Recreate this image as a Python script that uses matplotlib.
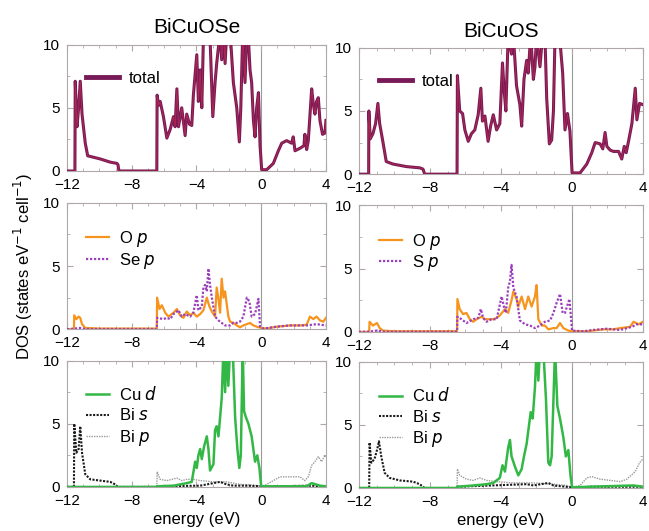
import numpy as np
import matplotlib
matplotlib.use("Agg")
import matplotlib.pyplot as plt
from matplotlib.ticker import MultipleLocator

# ── Data (energy eV, DOS) ────────────────────────────────────────────────────
SE_TOTAL = [(-12, 0), (-11.51, 0), (-11.49, 7.1), (-11.38, 3.5), (-11.28, 5.0), (-11.18, 7.1),
            (-11.07, 4.5), (-10.87, 2.2), (-10.72, 1.2), (-9.94, 0.95), (-9.33, 0.7), (-8.91, 0.6),
            (-8.85, 0.5), (-8.79, 0), (-6.45, 0), (-6.43, 6.0), (-6.34, 5.2), (-6.24, 5.5),
            (-6.04, 4.3), (-5.83, 2.6), (-5.62, 3.3), (-5.42, 4.3), (-5.32, 3.5), (-5.21, 6.5),
            (-5.11, 3.5), (-4.91, 5.0), (-4.70, 2.8), (-4.60, 4.5), (-4.43, 3.7), (-4.29, 3.6),
            (-4.19, 6.0), (-3.98, 9.2), (-3.88, 5.5), (-3.77, 8.0), (-3.67, 5.0), (-3.57, 10.5),
            (-3.36, 11), (-3.16, 10.5), (-2.99, 4.3), (-2.85, 7.0), (-2.75, 8.5), (-2.54, 11),
            (-2.44, 8.8), (-2.33, 11), (-2.23, 8.5), (-2.13, 11), (-1.92, 11), (-1.72, 7.0),
            (-1.51, 5.0), (-1.35, 2.3), (-1.26, 5.0), (-1.14, 11), (-1.00, 7.0), (-0.89, 11),
            (-0.79, 10.5), (-0.69, 8.0), (-0.59, 7.0), (-0.48, 4.0), (-0.38, 2.7), (-0.28, 5.0),
            (-0.17, 6.2), (-0.07, 2.0), (0.03, 0.1), (0.34, 0.1), (0.75, 0.6), (1.06, 1.6),
            (1.27, 2.2), (1.57, 2.4), (1.88, 2.2), (1.98, 2.7), (2.09, 1.6), (2.40, 1.8),
            (2.64, 2.0), (2.70, 2.9), (2.81, 1.7), (2.91, 2.4), (3.12, 6.5), (3.22, 5.3),
            (3.32, 4.5), (3.42, 5.5), (3.53, 5.8), (3.63, 4.0), (3.79, 2.9), (3.94, 3.0), (4.0, 4.0)]

S_TOTAL = [(-12, 0), (-11.45, 0), (-11.44, 5.0), (-11.36, 2.8), (-11.21, 3.2), (-11.06, 4.0),
           (-10.93, 5.6), (-10.83, 4.0), (-10.64, 2.5), (-10.46, 1.0), (-10.08, 0.8), (-9.33, 0.6),
           (-8.57, 0.5), (-8.39, 0.4), (-8.29, 0), (-6.47, 0), (-6.45, 7.8), (-6.32, 5.0),
           (-6.16, 4.8), (-6.03, 3.5), (-5.84, 2.6), (-5.66, 3.2), (-5.47, 3.5), (-5.28, 4.7),
           (-5.13, 6.8), (-5.04, 4.2), (-4.90, 4.6), (-4.72, 2.6), (-4.58, 3.8), (-4.43, 4.7),
           (-4.24, 3.5), (-4.06, 4.0), (-3.91, 8.8), (-3.81, 6.5), (-3.72, 5.0), (-3.59, 11),
           (-3.40, 9.5), (-3.30, 11), (-3.12, 7.0), (-2.93, 5.5), (-2.83, 3.8), (-2.70, 7.5),
           (-2.55, 9.0), (-2.46, 8.0), (-2.32, 11), (-2.17, 7.5), (-2.08, 8.5), (-1.99, 11),
           (-1.80, 8.5), (-1.65, 11), (-1.52, 11), (-1.42, 6.0), (-1.27, 2.4), (-1.14, 2.7),
           (-1.04, 5.0), (-0.95, 11), (-0.76, 11), (-0.67, 10.5), (-0.52, 8.0), (-0.39, 3.5),
           (-0.25, 4.8), (-0.11, 3.4), (0.01, 0.1), (0.46, 0.1), (0.84, 0.8), (1.12, 1.7),
           (1.31, 2.5), (1.59, 2.4), (1.74, 2.0), (1.87, 3.3), (1.97, 2.2), (2.16, 1.9),
           (2.34, 1.8), (2.63, 1.8), (2.81, 1.2), (2.95, 2.2), (3.06, 1.7), (3.19, 2.6),
           (3.38, 4.0), (3.57, 6.8), (3.66, 4.3), (3.81, 5.6), (4.0, 5.5)]

SE_O_P = [(-12, 0), (-11.57, 0), (-11.55, 1.1), (-11.42, 0.8), (-11.28, 1.0), (-11.18, 0.9),
          (-11.07, 0.4), (-10.87, 0.1), (-9.94, 0.05), (-6.45, 0.05), (-6.43, 2.5), (-6.28, 1.6),
          (-6.14, 1.9), (-5.93, 1.3), (-5.73, 1.0), (-5.42, 1.3), (-5.21, 1.6), (-5.01, 1.1),
          (-4.80, 0.9), (-4.60, 1.4), (-4.39, 1.1), (-4.19, 1.3), (-3.98, 1.0), (-3.77, 1.2),
          (-3.57, 1.5), (-3.36, 2.5), (-3.20, 1.8), (-3.05, 1.4), (-2.85, 1.0), (-2.75, 3.3),
          (-2.64, 2.4), (-2.54, 1.3), (-2.44, 4.0), (-2.33, 2.5), (-2.23, 3.0), (-2.13, 2.0),
          (-2.03, 1.0), (-1.92, 0.6), (-1.72, 0.5), (-1.51, 0.3), (-1.31, 0.15), (-1.10, 0.3),
          (-0.89, 0.4), (-0.69, 0.5), (-0.48, 0.3), (-0.28, 0.2), (0.0, 0.1), (0.34, 0.05),
          (0.96, 0.2), (1.78, 0.3), (2.40, 0.3), (2.81, 0.35), (3.01, 1.0), (3.22, 0.8),
          (3.42, 1.0), (3.63, 0.7), (3.84, 0.6), (4.0, 0.9)]

SE_X_P = [(-12, 0), (-11.55, 0.05), (-11.2, 0.1), (-10.9, 0.02), (-6.45, 0.02), (-6.43, 0.9),
          (-6.04, 0.8), (-5.83, 0.9), (-5.62, 0.8), (-5.42, 1.2), (-5.11, 1.5), (-4.91, 1.0),
          (-4.70, 1.2), (-4.39, 1.0), (-4.19, 1.3), (-3.98, 2.7), (-3.88, 1.5), (-3.67, 1.8),
          (-3.57, 3.3), (-3.47, 3.5), (-3.36, 3.0), (-3.26, 4.8), (-3.16, 3.5), (-3.05, 2.5),
          (-2.85, 1.0), (-2.64, 0.7), (-2.44, 0.5), (-2.23, 0.3), (-1.92, 0.3), (-1.72, 0.5),
          (-1.51, 0.5), (-1.31, 0.6), (-1.10, 1.0), (-0.89, 2.5), (-0.73, 2.2), (-0.59, 1.0),
          (-0.38, 1.2), (-0.17, 2.4), (-0.07, 0.2), (0.14, 0.05), (0.96, 0.2), (1.78, 0.3),
          (2.81, 0.3), (3.42, 0.4), (4.0, 0.3)]

S_O_P = [(-12, 0), (-11.42, 0), (-11.40, 0.8), (-11.21, 0.5), (-10.98, 0.7), (-10.83, 0.3),
         (-10.64, 0.1), (-10.0, 0.05), (-6.47, 0.05), (-6.45, 2.6), (-6.32, 1.8), (-6.13, 1.4),
         (-5.94, 1.5), (-5.75, 1.0), (-5.56, 0.8), (-5.37, 1.0), (-5.09, 1.2), (-4.90, 1.0),
         (-4.72, 1.0), (-4.43, 1.0), (-4.24, 1.1), (-4.06, 1.3), (-3.77, 1.8), (-3.59, 1.5),
         (-3.40, 2.5), (-3.30, 3.2), (-3.12, 2.6), (-3.02, 2.0), (-2.83, 2.8), (-2.64, 1.8),
         (-2.46, 2.8), (-2.27, 2.0), (-2.08, 2.8), (-1.99, 3.7), (-1.89, 1.0), (-1.70, 0.5),
         (-1.52, 0.5), (-1.33, 0.2), (-1.04, 0.3), (-0.86, 0.3), (-0.67, 0.7), (-0.48, 0.3),
         (-0.20, 0.1), (0.01, 0.05), (0.84, 0.05), (1.78, 0.2), (2.34, 0.2), (2.72, 0.3),
         (3.28, 0.4), (3.47, 0.8), (3.76, 0.6), (4.0, 0.8)]

S_X_P = [(-12, 0), (-11.4, 0.02), (-11.0, 0.1), (-10.6, 0.02), (-6.47, 0.02), (-6.45, 1.2),
         (-6.22, 1.0), (-5.94, 0.7), (-5.56, 1.0), (-5.28, 1.1), (-5.13, 1.8), (-5.00, 1.1),
         (-4.81, 0.8), (-4.53, 1.0), (-4.24, 1.0), (-3.96, 2.8), (-3.83, 2.0), (-3.72, 1.5),
         (-3.59, 3.5), (-3.49, 4.0), (-3.40, 5.3), (-3.30, 3.5), (-3.12, 2.8), (-2.93, 0.9),
         (-2.64, 0.6), (-2.36, 0.5), (-2.08, 0.3), (-1.80, 0.5), (-1.52, 0.8), (-1.23, 0.9),
         (-1.04, 1.5), (-0.86, 2.3), (-0.67, 3.0), (-0.52, 1.5), (-0.39, 1.5), (-0.14, 2.6),
         (0.01, 0.1), (0.65, 0.05), (1.21, 0.15), (1.97, 0.25), (2.72, 0.15), (3.38, 0.4),
         (3.66, 0.6), (4.0, 0.6)]

SE_CU_D = [(-12, 0), (-6.45, 0), (-6.43, 0.05), (-5.42, 0.1), (-4.60, 0.3), (-4.29, 0.4),
           (-4.08, 2.0), (-3.98, 1.5), (-3.88, 2.5), (-3.77, 3.0), (-3.67, 2.2), (-3.53, 3.2),
           (-3.36, 4.0), (-3.26, 3.0), (-3.16, 1.3), (-2.95, 1.8), (-2.85, 4.5), (-2.75, 4.8),
           (-2.64, 4.0), (-2.54, 5.5), (-2.44, 7.0), (-2.33, 11), (-2.23, 7.5), (-2.13, 11),
           (-2.03, 8.0), (-1.92, 11), (-1.76, 11), (-1.61, 5.5), (-1.47, 3.0), (-1.35, 1.5),
           (-1.26, 2.5), (-1.14, 11), (-1.06, 6.0), (-0.94, 5.5), (-0.79, 5.0), (-0.59, 4.0),
           (-0.38, 2.0), (-0.24, 2.5), (-0.11, 1.5), (0.0, 0.05), (2.8, 0.05), (3.12, 0.3),
           (3.63, 0.1), (4.0, 0.05)]

SE_BI_S = [(-12, 0), (-11.57, 0), (-11.55, 5.0), (-11.42, 2.7), (-11.28, 3.0), (-11.18, 4.8),
           (-11.07, 2.7), (-10.87, 1.0), (-10.56, 0.6), (-9.94, 0.5), (-9.33, 0.4), (-9.02, 0.2),
           (-8.91, 0.05), (-8.8, 0), (-6.45, 0), (-6.43, 0.05), (-3.77, 0.1), (-2.95, 0.3),
           (-2.54, 0.4), (-2.13, 0.2), (-1.72, 0.1), (-0.89, 0.1), (0.0, 0.05), (0.03, 0),
           (1.0, 0.05), (3.0, 0.1), (4.0, 0.05)]

SE_BI_P = [(-12, 0), (-6.45, 0), (-6.43, 1.2), (-6.24, 0.6), (-5.83, 0.5), (-5.21, 0.7),
           (-4.91, 0.5), (-4.60, 0.6), (-4.19, 0.6), (-3.77, 0.5), (-2.95, 0.4), (-2.13, 0.4),
           (-1.31, 0.2), (-0.48, 0.15), (0.0, 0.05), (0.34, 0.2), (0.75, 0.5), (1.16, 0.8),
           (1.78, 0.8), (2.40, 0.8), (2.70, 0.5), (2.91, 0.8), (3.12, 1.7), (3.32, 2.0),
           (3.53, 2.4), (3.73, 2.0), (3.94, 2.5), (4.0, 2.4)]

S_CU_D = [(-12, 0), (-6.47, 0), (-6.45, 0.1), (-5.56, 0.2), (-4.81, 0.3), (-4.43, 0.4),
          (-4.06, 0.8), (-3.91, 1.8), (-3.77, 1.3), (-3.59, 3.2), (-3.49, 3.8), (-3.40, 2.5),
          (-3.21, 1.7), (-3.02, 1.0), (-2.83, 1.5), (-2.70, 2.5), (-2.55, 3.5), (-2.46, 4.5),
          (-2.32, 6.0), (-2.21, 5.5), (-2.08, 8.0), (-1.99, 11), (-1.89, 8.5), (-1.80, 11),
          (-1.61, 11), (-1.46, 7.0), (-1.33, 2.0), (-1.23, 1.8), (-1.14, 2.5), (-0.95, 11),
          (-0.82, 6.5), (-0.67, 5.5), (-0.48, 4.0), (-0.34, 2.5), (-0.20, 3.0), (-0.08, 1.0),
          (0.01, 0.05), (1.0, 0.1), (3.47, 0.2), (4.0, 0.1)]

S_BI_S = [(-12, 0), (-11.42, 0), (-11.40, 3.6), (-11.30, 2.0), (-11.12, 2.3), (-10.98, 3.0),
          (-10.87, 3.7), (-10.74, 2.5), (-10.55, 1.2), (-10.27, 0.8), (-9.70, 0.6), (-8.95, 0.5),
          (-8.57, 0.3), (-8.39, 0.1), (-8.3, 0), (-6.47, 0), (-6.45, 0.1), (-2.55, 0.3),
          (-2.17, 0.2), (-1.33, 0.4), (-1.04, 0.2), (0.0, 0.05), (0.02, 0), (1.0, 0.1), (4.0, 0.1)]

S_BI_P = [(-12, 0), (-6.47, 0), (-6.45, 1.5), (-6.32, 1.0), (-5.94, 0.7), (-5.56, 0.6),
          (-5.19, 0.8), (-4.81, 0.6), (-4.24, 0.5), (-3.30, 0.4), (-2.17, 0.4), (-1.04, 0.3),
          (-0.29, 0.2), (0.01, 0.05), (0.46, 0.2), (0.84, 0.8), (1.12, 0.9), (1.59, 0.7),
          (2.16, 0.6), (2.72, 0.5), (3.10, 0.7), (3.57, 1.3), (3.81, 2.0), (4.0, 2.3)]

TITLES = ["BiCuOSe", "BiCuOS"]
X_TICKS = [-12, -8, -4, 0, 4]
Y_TICKS = [0, 5, 10]

# ── Style ─────────────────────────────────────────────────────────────────────
PURPLE = "#781a58"
INNER = "#b3294e"
ORANGE = "#f7941d"
VIOLET = "#9c3fbc"
GREEN = "#33b846"
BLACK = "#1a1a1a"
GREY = "#9a9a9a"
SPINE = "#b0a8a8"

plt.rcParams.update({
    "font.family": ["Liberation Sans", "DejaVu Sans"],
    "font.size": 11,
})

fig = plt.figure(figsize=(6.49, 5.31), dpi=100)

# axes rectangles (left, bottom, width, height) in figure fraction
col_x = [(0.1032, 0.399), (0.553, 0.4376)]
row_y = [[0.678, 0.380, 0.083], [0.672, 0.375, 0.081]]
H = 0.238


def xy(data):
    arr = np.array(data, dtype=float)
    return arr[:, 0], arr[:, 1]


def style(ax):
    ax.set_xlim(-12, 4)
    ax.set_ylim(0, 10)
    ax.set_xticks(X_TICKS)
    ax.set_yticks(Y_TICKS)
    ax.set_xticklabels([str(t).replace("-", "\u2212") for t in X_TICKS])
    ax.xaxis.set_minor_locator(MultipleLocator(1))
    ax.yaxis.set_minor_locator(MultipleLocator(2.5))
    ax.tick_params(which="both", direction="in", top=True, right=True,
                   color=SPINE, labelsize=11)
    ax.tick_params(axis="x", pad=5)
    ax.tick_params(axis="y", pad=5)
    ax.tick_params(which="major", length=4)
    ax.tick_params(which="minor", length=2)
    for sp in ax.spines.values():
        sp.set_color(SPINE)
        sp.set_linewidth(0.8)
    ax.axvline(0, color="#999999", lw=0.8, zorder=1)


panels = [
    [SE_TOTAL, SE_O_P, SE_X_P, SE_CU_D, SE_BI_S, SE_BI_P, "Se"],
    [S_TOTAL, S_O_P, S_X_P, S_CU_D, S_BI_S, S_BI_P, "S"],
]

for c, (tot, op, xp, cud, bis, bip, anion) in enumerate(panels):
    x0, w = col_x[c]
    axs = [fig.add_axes([x0, row_y[c][r], w, H]) for r in range(3)]
    for ax in axs:
        style(ax)

    # top: total
    ax = axs[0]
    e, d = xy(tot)
    ax.plot(e, d, color=PURPLE, lw=2.2, label="total", zorder=3)
    ax.plot(e, d, color=INNER, lw=0.6, zorder=4)
    leg = ax.legend(loc="upper left", bbox_to_anchor=(0.04, 0.86), frameon=False,
                    borderpad=0, handlelength=2.0, handletextpad=0.6, fontsize=12)
    leg.get_lines()[0].set_linewidth(3.5)
    ax.set_title(TITLES[c], fontsize=15, pad=8)

    # middle: O p and anion p
    ax = axs[1]
    e, d = xy(op)
    ax.plot(e, d, color=ORANGE, lw=1.6, label="O $p$", zorder=3)
    e, d = xy(xp)
    ax.plot(e, d, color=VIOLET, lw=1.6, ls=(0, (1, 0.8)), label=f"{anion} $p$", zorder=3)
    ax.legend(loc="upper left", bbox_to_anchor=(0.04, 0.86), frameon=False,
              borderpad=0, handlelength=1.4, handletextpad=0.6, labelspacing=0.1,
              fontsize=12)

    # bottom: Cu d, Bi s, Bi p
    ax = axs[2]
    e, d = xy(cud)
    ax.plot(e, d, color=GREEN, lw=1.8, label="Cu $d$", zorder=4)
    e, d = xy(bis)
    ax.plot(e, d, color=BLACK, lw=1.5, ls=(0, (1, 0.7)), label="Bi $s$", zorder=3)
    e, d = xy(bip)
    ax.plot(e, d, color=GREY, lw=1.0, ls=(0, (1, 0.8)), label="Bi $p$", zorder=2)
    ax.legend(loc="upper left", bbox_to_anchor=(0.04, 0.87), frameon=False,
              borderpad=0, handlelength=1.4, handletextpad=0.6, labelspacing=0.25,
              fontsize=12)
    ax.set_xlabel("energy (eV)", fontsize=12, labelpad=3)

    if c == 0:
        axs[1].set_ylabel("DOS (states eV$^{-1}$ cell$^{-1}$)", fontsize=12, labelpad=6)

fig.savefig("out.png", dpi=100, facecolor="white")
